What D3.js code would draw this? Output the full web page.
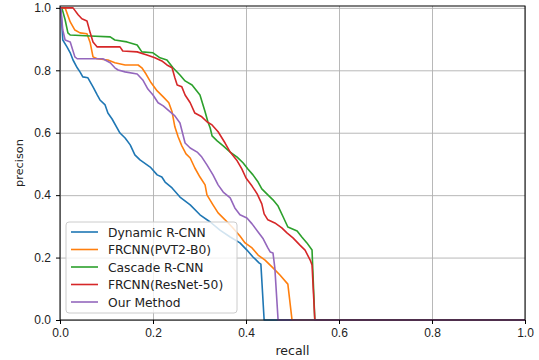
<!DOCTYPE html>
<html>
<head>
<meta charset="utf-8">
<script src="https://cdn.jsdelivr.net/npm/d3@7"></script>
<style>
  body { margin: 0; background: #fff; }
  svg { font-family: "DejaVu Sans", sans-serif; }
  .tick text { font-size: 12px; fill: #222; }
  .grid line { stroke: #b0b0b0; stroke-width: 0.9; }
  .grid path { display: none; }
</style>
</head>
<body>
<div id="chart"></div>
<script>
const margin = ({top: 6, right: 14, bottom: 40, left: 60})
const width = 539 - margin.left - margin.right
const height = 360 - margin.top - margin.bottom

const seriesNames = ["Dynamic R-CNN", "FRCNN(PVT2-B0)", "Cascade R-CNN", "FRCNN(ResNet-50)", "Our Method"]
const colors = ["#1f77b4", "#ff7f0e", "#2ca02c", "#d62728", "#9467bd"]
const xTicks = [0, 0.2, 0.4, 0.6, 0.8, 1.0]
const yTicks = [0, 0.2, 0.4, 0.6, 0.8, 1.0]

// recall / precision pairs
const dynamicRecall = [0, 0.002, 0.006, 0.015, 0.022, 0.028, 0.037, 0.043, 0.049, 0.060, 0.071, 0.080, 0.086, 0.097, 0.103, 0.112, 0.129, 0.140, 0.151, 0.161, 0.172, 0.194, 0.209, 0.219, 0.226, 0.241, 0.258, 0.280, 0.301, 0.323, 0.344, 0.366, 0.387, 0.402, 0.415, 0.428, 0.432, 0.439, 1.0]
const dynamicPrecision = [1.0, 0.994, 0.897, 0.875, 0.856, 0.833, 0.808, 0.795, 0.779, 0.776, 0.747, 0.721, 0.705, 0.689, 0.663, 0.644, 0.599, 0.583, 0.561, 0.529, 0.513, 0.490, 0.465, 0.458, 0.442, 0.423, 0.394, 0.369, 0.337, 0.314, 0.288, 0.266, 0.247, 0.224, 0.202, 0.183, 0.179, 0, 0]

const pvtRecall = [0, 0.011, 0.022, 0.032, 0.043, 0.058, 0.065, 0.071, 0.080, 0.103, 0.118, 0.140, 0.168, 0.176, 0.185, 0.196, 0.209, 0.222, 0.234, 0.241, 0.247, 0.254, 0.262, 0.271, 0.280, 0.290, 0.301, 0.312, 0.316, 0.329, 0.340, 0.355, 0.370, 0.387, 0.398, 0.413, 0.426, 0.441, 0.458, 0.473, 0.490, 0.499, 1.0]
const pvtPrecision = [1.0, 1.0, 0.955, 0.929, 0.920, 0.917, 0.888, 0.843, 0.837, 0.833, 0.824, 0.817, 0.817, 0.808, 0.788, 0.760, 0.734, 0.715, 0.696, 0.667, 0.619, 0.587, 0.558, 0.532, 0.519, 0.487, 0.458, 0.433, 0.401, 0.369, 0.343, 0.321, 0.298, 0.269, 0.247, 0.231, 0.208, 0.192, 0.167, 0.144, 0.115, 0, 0]

const cascadeRecall = [0, 0.004, 0.011, 0.017, 0.022, 0.065, 0.108, 0.118, 0.144, 0.166, 0.176, 0.200, 0.215, 0.230, 0.243, 0.258, 0.269, 0.284, 0.301, 0.312, 0.318, 0.323, 0.327, 0.338, 0.351, 0.366, 0.381, 0.394, 0.404, 0.415, 0.426, 0.434, 0.447, 0.458, 0.469, 0.480, 0.490, 0.510, 0.520, 0.531, 0.542, 0.548, 1.0]
const cascadePrecision = [1.0, 1.0, 0.962, 0.920, 0.913, 0.910, 0.907, 0.897, 0.891, 0.881, 0.859, 0.856, 0.840, 0.833, 0.808, 0.785, 0.766, 0.753, 0.721, 0.667, 0.635, 0.615, 0.590, 0.574, 0.558, 0.538, 0.522, 0.503, 0.484, 0.465, 0.442, 0.420, 0.401, 0.385, 0.365, 0.330, 0.298, 0.285, 0.266, 0.247, 0.224, 0, 0]

const resnetRecall = [0, 0.028, 0.039, 0.047, 0.058, 0.065, 0.071, 0.080, 0.129, 0.135, 0.166, 0.187, 0.204, 0.219, 0.230, 0.241, 0.247, 0.252, 0.262, 0.269, 0.280, 0.290, 0.305, 0.316, 0.327, 0.340, 0.355, 0.366, 0.381, 0.391, 0.400, 0.413, 0.424, 0.434, 0.439, 0.447, 0.462, 0.477, 0.488, 0.501, 0.516, 0.527, 0.538, 0.542, 0.548, 1.0]
const resnetPrecision = [1.0, 1.0, 0.978, 0.965, 0.958, 0.920, 0.891, 0.875, 0.875, 0.862, 0.859, 0.849, 0.840, 0.830, 0.817, 0.808, 0.776, 0.753, 0.747, 0.721, 0.696, 0.663, 0.651, 0.635, 0.625, 0.603, 0.567, 0.538, 0.510, 0.484, 0.455, 0.429, 0.404, 0.372, 0.340, 0.321, 0.311, 0.295, 0.279, 0.263, 0.240, 0.224, 0.192, 0.176, 0, 0]

const oursRecall = [0, 0.002, 0.006, 0.011, 0.022, 0.032, 0.037, 0.092, 0.108, 0.118, 0.125, 0.140, 0.166, 0.178, 0.189, 0.200, 0.211, 0.222, 0.237, 0.247, 0.258, 0.269, 0.280, 0.295, 0.305, 0.316, 0.329, 0.340, 0.351, 0.366, 0.376, 0.387, 0.402, 0.413, 0.426, 0.437, 0.447, 0.452, 0.458, 0.462, 0.469, 1.0]
const oursPrecision = [1.0, 0.994, 0.929, 0.897, 0.891, 0.843, 0.837, 0.837, 0.824, 0.808, 0.801, 0.795, 0.788, 0.769, 0.740, 0.721, 0.696, 0.686, 0.667, 0.654, 0.631, 0.567, 0.551, 0.538, 0.522, 0.497, 0.465, 0.433, 0.410, 0.391, 0.359, 0.337, 0.327, 0.308, 0.282, 0.260, 0.231, 0.218, 0.215, 0.167, 0, 0]

const recalls = [dynamicRecall, pvtRecall, cascadeRecall, resnetRecall, oursRecall]
const precisions = [dynamicPrecision, pvtPrecision, cascadePrecision, resnetPrecision, oursPrecision]

const svg = d3.select("#chart").append("svg")
    .attr("width", width + margin.left + margin.right)
    .attr("height", height + margin.top + margin.bottom)
    .append("g")
    .attr("transform", `translate(${margin.left},${margin.top})`)

const x = d3.scaleLinear().domain([0, 1]).range([0, width])
const y = d3.scaleLinear().domain([0, 1.006]).range([height, 0])

// grid
svg.append("g").attr("class", "grid")
    .attr("transform", `translate(0, ${height})`)
    .call(d3.axisBottom(x).tickValues(xTicks).tickSize(-height).tickFormat(""))
svg.append("g").attr("class", "grid")
    .call(d3.axisLeft(y).tickValues(yTicks).tickSize(-width).tickFormat(""))

const line = d3.line()
    .x(d => x(d[0]))
    .y(d => y(d[1]))

recalls.forEach((rs, i) => {
    const pts = rs.map((r, j) => [r, precisions[i][j]])
    svg.append("path")
        .datum(pts)
        .attr("d", line)
        .attr("fill", "none")
        .attr("stroke", colors[i])
        .attr("stroke-width", 1.6)
        .attr("stroke-linejoin", "round")
})

// spines
svg.append("rect")
    .attr("width", width).attr("height", height)
    .attr("fill", "none").attr("stroke", "#000").attr("stroke-width", 1)

const xAxis = d3.axisBottom(x).tickValues(xTicks).tickFormat(d3.format(".1f")).tickSize(4).tickPadding(4)
const yAxis = d3.axisLeft(y).tickValues(yTicks).tickFormat(d3.format(".1f")).tickSize(4).tickPadding(5)

svg.append("g").attr("class", "x-axis")
    .attr("transform", `translate(0, ${height})`)
    .call(xAxis)
    .call(g => g.select(".domain").remove())
svg.append("g").attr("class", "y-axis")
    .call(yAxis)
    .call(g => g.select(".domain").remove())

svg.append("text")
    .attr("x", width / 2).attr("y", height + 35)
    .attr("text-anchor", "middle")
    .attr("font-size", 12.5).attr("fill", "#222")
    .text("recall")

svg.append("text")
    .attr("transform", `translate(${-37.5}, ${height / 2}) rotate(-90)`)
    .attr("text-anchor", "middle")
    .attr("font-size", 11.3).attr("fill", "#222")
    .text("precison")

// legend
const legend = svg.append("g").attr("transform", "translate(6, 216)")
legend.append("rect")
    .attr("width", 171).attr("height", 91).attr("rx", 3)
    .attr("fill", "#fff").attr("fill-opacity", 0.8)
    .attr("stroke", "#ccc").attr("stroke-width", 1)

seriesNames.forEach((name, i) => {
    const row = legend.append("g").attr("transform", `translate(0, ${10 + i * 17.5})`)
    row.append("line")
        .attr("x1", 5).attr("x2", 32)
        .attr("stroke", colors[i]).attr("stroke-width", 1.6)
    row.append("text")
        .attr("x", 42).attr("y", 4.5)
        .attr("font-size", 12.3).attr("fill", "#222")
        .text(name)
})
</script>
</body>
</html>
